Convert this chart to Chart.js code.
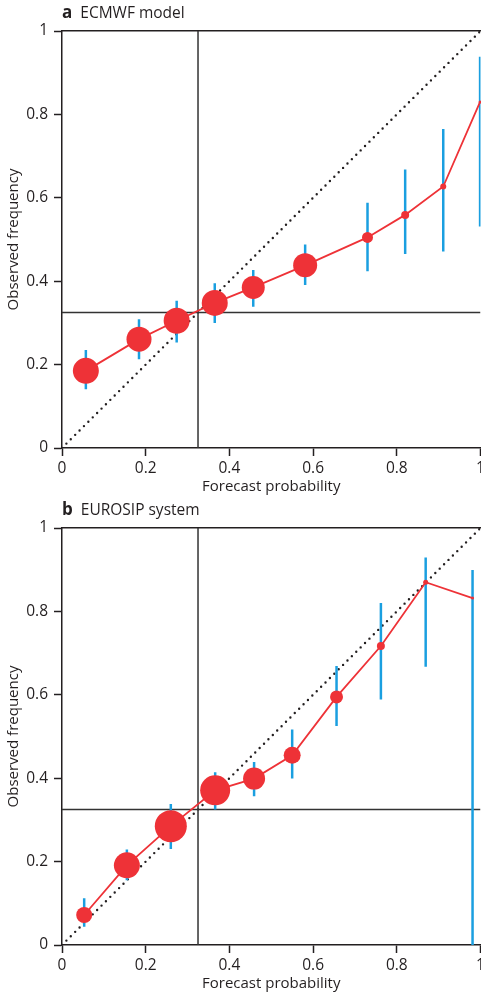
<!DOCTYPE html>
<html><head><meta charset="utf-8">
<script src="https://cdn.jsdelivr.net/npm/chart.js@4/dist/chart.umd.min.js"></script>
<style>
html,body{margin:0;padding:0;background:#fff;width:481px;height:994px;overflow:hidden;position:relative;}
.panel{position:absolute;left:0;width:520px;height:497px;}
.panel canvas{position:absolute;left:0;top:0;}
.ttl{position:absolute;left:62px;font-family:'Open Sans',sans-serif;font-size:15.5px;color:#231f20;white-space:nowrap;z-index:2;line-height:18px;}
.ttl b{font-weight:700;font-size:17px;margin-right:8px;}
</style></head><body>
<div class="panel" style="top:0"><div class="ttl" style="top:3px"><b>a</b>ECMWF model</div><canvas id="ca" width="520" height="497"></canvas></div>
<div class="panel" style="top:497px"><div class="ttl" style="top:3px"><b>b</b>EUROSIP system</div><canvas id="cb" width="520" height="497"></canvas></div>
<script>
const xTickLabels = ['0','0.2','0.4','0.6','0.8','1'];
const yTickLabels = ['0','0.2','0.4','0.6','0.8','1'];
const climatology = 0.325;

// Panel a: ECMWF model
const probA = [0.057,0.184,0.274,0.365,0.457,0.581,0.730,0.820,0.911,0.999];
const freqA = [0.185,0.261,0.305,0.348,0.385,0.438,0.505,0.559,0.627,0.830];
const lowA  = [0.141,0.213,0.253,0.300,0.339,0.391,0.424,0.465,0.471,0.531];
const highA = [0.235,0.309,0.353,0.395,0.427,0.488,0.588,0.668,0.765,0.938];
const sizeA = [13,12.5,13,13,11.5,12,5.5,4,3,1.5];

// Panel b: EUROSIP system
const probB = [0.053,0.155,0.260,0.366,0.459,0.550,0.656,0.762,0.869,0.981];
const freqB = [0.072,0.191,0.285,0.371,0.399,0.455,0.595,0.717,0.870,0.832];
const lowB  = [0.044,0.155,0.230,0.325,0.357,0.399,0.525,0.589,0.667,0.000];
const highB = [0.112,0.229,0.338,0.414,0.439,0.517,0.669,0.820,0.929,0.899];
const sizeB = [8,13,16,15,11,8.5,6.5,4,2.5,1.5];

const INK = '#231f20', RED = '#ee3237', BLUE = '#1a9fe0';
const FONT = {family:"'Open Sans', sans-serif", size:15};
const TICKFONT = {family:"'Open Sans', sans-serif", size:15.5};

function makeChart(id, prob, freq, low, high, size){
  const errData = [];
  prob.forEach((x,i)=>{ errData.push({x, y:low[i]}, {x, y:high[i]}, {x, y:null}); });
  new Chart(document.getElementById(id), {
    type:'line',
    data:{datasets:[
      {data: prob.map((x,i)=>({x, y:freq[i]})), borderColor:RED, backgroundColor:RED, borderWidth:1.8,
       pointRadius:size, pointHoverRadius:size, pointBorderWidth:0, order:0, clip:false},
      {data: errData, borderColor:BLUE, borderWidth:2.5, pointRadius:0, spanGaps:false, order:1},
      {data: [{x:climatology,y:0},{x:climatology,y:1}], borderColor:'#333', borderWidth:1.5, pointRadius:0, order:2},
      {data: [{x:0,y:climatology},{x:1,y:climatology}], borderColor:'#333', borderWidth:1.5, pointRadius:0, order:2},
      {data: [{x:0,y:0},{x:1,y:1}], borderColor:INK, borderWidth:2.4, borderDash:[0,6.2], borderCapStyle:'round', pointRadius:0, order:3}
    ]},
    options:{
      responsive:false, animation:false, devicePixelRatio:1,
      layout:{padding:{top:31, right:39.5, bottom:0, left:0}},
      plugins:{legend:{display:false}, tooltip:{enabled:false}},
      scales:{
        x:{type:'linear', position:'bottom', min:0, max:1,
           ticks:{stepSize:0.2, autoSkip:false, maxRotation:0, padding:3, color:INK, font:TICKFONT,
                  callback:(v,i)=>xTickLabels[i]},
           grid:{drawOnChartArea:false, drawTicks:true, tickLength:8, tickColor:INK, tickWidth:1.5},
           border:{display:true, color:INK, width:1.5},
           title:{display:true, text:'Forecast probability', color:INK, font:FONT, padding:{top:0,bottom:1}},
           afterFit:s=>{s.height=49;}},
        x2:{type:'linear', position:'top', min:0, max:1, display:true,
           ticks:{display:false}, grid:{display:false, drawTicks:false},
           border:{display:true, color:INK, width:1.5},
           afterFit:s=>{s.height=0;}},
        y:{type:'linear', position:'left', min:0, max:1,
           ticks:{stepSize:0.2, autoSkip:false, padding:6, color:INK, font:TICKFONT,
                  callback:(v,i)=>yTickLabels[i]},
           grid:{drawOnChartArea:false, drawTicks:true, tickLength:8, tickColor:INK, tickWidth:1.5},
           border:{display:true, color:INK, width:1.5},
           title:{display:true, text:'Observed frequency', color:INK, font:FONT, padding:{top:5,bottom:0}},
           afterFit:s=>{s.width=62;}}
      }
    }
  });
}
makeChart('ca', probA, freqA, lowA, highA, sizeA);
makeChart('cb', probB, freqB, lowB, highB, sizeB);
</script>
</body></html>
